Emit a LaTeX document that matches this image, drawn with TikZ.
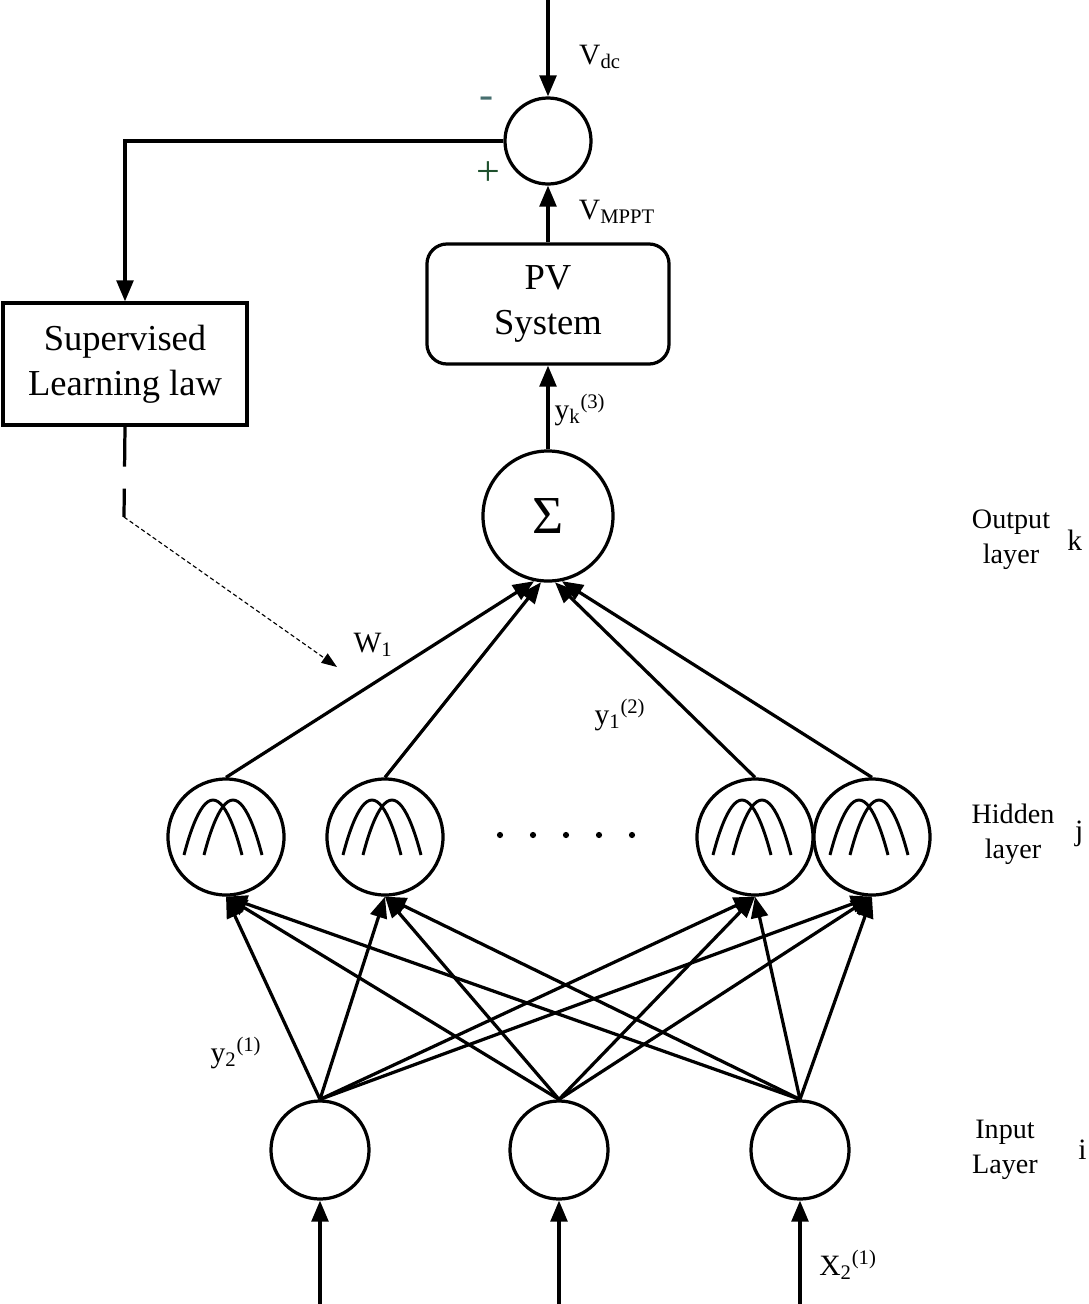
\documentclass[tikz,border=0pt]{standalone}
\usepackage{fontspec}
\setmainfont{Liberation Serif}
\usepackage{tikz}
\usetikzlibrary{arrows.meta, positioning}
\tikzset{>={Triangle[length=15pt, width=12pt]}}
\definecolor{minusteal}{RGB}{70,110,110}
\definecolor{plusgreen}{RGB}{30,80,45}

\begin{document}
\begin{tikzpicture}[x=0.025cm, y=-0.025cm, line width=2.3pt,
    every node/.style={font=\fontsize{21}{25}\selectfont},
    neuron/.style={circle, draw, inner sep=0pt, minimum size=#1},
    block/.style={draw, align=center, inner sep=0pt, font=\fontsize{26}{32}\selectfont},
    layerlbl/.style={align=center, font=\fontsize{20}{25}\selectfont},
    sign/.style={font=\fontsize{30}{30}\selectfont},
    hidden/.style={neuron=2.9cm, path picture={
        \begin{scope}[shift={(path picture bounding box.center)}, line width=2.1pt]
            \draw (-42,18) parabola bend (-13,-37) (16,18);
            \draw (-22,18) parabola bend (7,-37) (36,18);
        \end{scope}}}]
    \useasboundingbox (0,0) rectangle (1088,1304);

    \node[neuron=2.15cm] (sum) at (548,141) {};
    \node[block, rounded corners=0.5cm, minimum width=6.05cm, minimum height=3cm] (pv) at (548,304) {PV\\System};
    \node[block, minimum width=6.1cm, minimum height=3.05cm] (slaw) at (125,364) {Supervised\\Learning law};
    \node[neuron=3.25cm, font=\fontsize{38}{40}\selectfont] (sigma) at (548,516) {Σ};

    \node[hidden] (h1) at (226,837) {};
    \node[hidden] (h2) at (385,837) {};
    \node[hidden] (h3) at (755,837) {};
    \node[hidden] (h4) at (872,837) {};

    \node[neuron=2.45cm] (i1) at (320,1150) {};
    \node[neuron=2.45cm] (i2) at (559,1150) {};
    \node[neuron=2.45cm] (i3) at (800,1150) {};

    \coordinate (vdc) at (548,0);
    \coordinate (lawbend) at (124,517);
    \coordinate (wtip) at (337,667);

    \draw[->] (vdc) -- (sum);
    \draw[->] (pv) -- (sum);
    \draw[->] (sigma) -- (pv);
    \draw[->] (sum.west) -| (slaw.north);
    \draw[dash pattern=on 1cm off 0.55cm] (slaw.south) -- (lawbend);
    \draw[line width=0.8pt, dash pattern=on 3pt off 2pt, -{Triangle[length=11pt, width=8pt]}] (lawbend) -- (wtip);

    \foreach \h/\a in {h1/-102, h2/-96, h3/-84, h4/-78}
        \draw[->] (\h.north) -- (sigma.\a);
    \foreach \i in {i1,i2,i3}
        \foreach \h in {h1,h2,h3,h4}
            \draw[->] (\i.north) -- (\h.south);
    \foreach \i/\x in {i1/320, i2/559, i3/800} {
        \coordinate (x\i) at (\x,1304);
        \draw[->] (x\i) -- (\i);
    }
    \foreach \d in {0,...,4}
        \fill (500+33*\d,835) circle[radius=2.2pt];

    \node (vdclbl) at (600,57) {V\textsubscript{dc}};
    \node[sign, text=minusteal] (minus) at (487,103) {-};
    \node[sign, text=plusgreen] (plus) at (488,174) {+};
    \node (vmppt) at (617,212) {V\textsubscript{MPPT}};
    \node (yk) at (580,410) {y\textsubscript{k}\textsuperscript{(3)}};
    \node (w1) at (373,645) {W\textsubscript{1}};
    \node (y1) at (620,715) {y\textsubscript{1}\textsuperscript{(2)}};
    \node (y2) at (236,1053) {y\textsubscript{2}\textsuperscript{(1)}};
    \node (x2) at (848,1265) {X\textsubscript{2}\textsuperscript{(1)}};

    \node[layerlbl] (outlbl) at (1011,540) {Output\\layer};
    \node[layerlbl] (hidlbl) at (1013,834) {Hidden\\layer};
    \node[layerlbl] (inlbl) at (1005,1150) {Input\\Layer};
    \node[right=0.12cm of outlbl] (k) {k};
    \node[right=0.2cm of hidlbl] (j) {j};
    \node[right=0.7cm of inlbl] (i) {i};
\end{tikzpicture}
\end{document}
